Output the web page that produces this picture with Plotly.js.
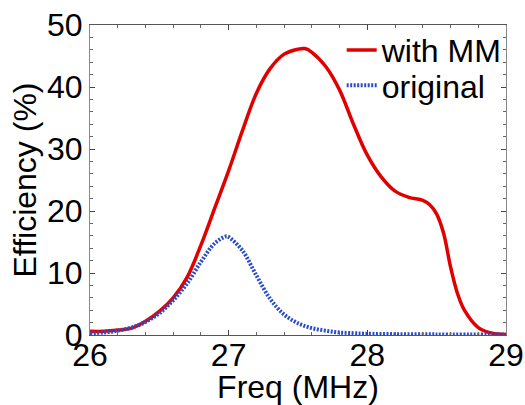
<!DOCTYPE html>
<html>
<head>
<meta charset="utf-8">
<script src="https://cdn.plot.ly/plotly-3.0.1.min.js"></script>
<style>html,body{margin:0;padding:0;background:#fff;}#chart{width:525px;height:405px;}</style>
</head>
<body>
<div id="chart"></div>
<script>
const freqMM = [26.0,26.1,26.2,26.3,26.4,26.5,26.6,26.7,26.8,26.9,27.0,27.1,27.2,27.3,27.4,27.5,27.55,27.6,27.7,27.8,27.9,28.0,28.1,28.2,28.3,28.4,28.45,28.5,28.55,28.6,28.65,28.7,28.8,28.9,29.0];
const effMM  = [0.6,0.6,0.8,1.1,2.2,3.8,6.0,9.3,14.5,20.5,26.5,33.0,39.0,43.0,45.3,46.1,46.2,45.6,43.3,39.5,34.0,29.0,25.5,23.2,22.2,21.7,21.0,19.5,16.4,11.0,6.7,4.0,1.2,0.3,0.1];
const freqOrig = [26.0,26.1,26.2,26.3,26.4,26.5,26.6,26.7,26.8,26.9,26.98,27.0,27.1,27.2,27.3,27.4,27.5,27.6,27.7,27.8,27.9,28.0,28.5,29.0];
const effOrig  = [0.3,0.4,0.7,1.2,2.1,3.5,5.6,8.3,11.8,14.8,15.9,15.8,13.6,9.6,5.8,3.3,1.9,1.1,0.7,0.4,0.3,0.2,0.1,0.1];
const seriesNames = ["with MM", "original"];
const xTicks = [26, 27, 28, 29];
const yTicks = [0, 10, 20, 30, 40, 50];

const font = {family: "Liberation Sans, Arial, sans-serif", color: "#000"};
const F = s => Object.assign({size: s}, font);
const traces = [
  {x: freqMM, y: effMM, name: seriesNames[0], mode: "lines", legend: "legend",
   line: {color: "#e00000", width: 3.5, shape: "spline"}},
  {x: freqOrig, y: effOrig, name: seriesNames[1], mode: "lines", legend: "legend2",
   line: {color: "#2a4cc8", width: 4, dash: "2px,1.5px", shape: "spline"}}
];
const legBase = {xanchor: "left", yanchor: "middle", bgcolor: "rgba(0,0,0,0)", font: F(32), itemwidth: 30};
const layout = {
  width: 525, height: 405,
  margin: {l: 90, r: 19, t: 25, b: 70},
  paper_bgcolor: "#fff", plot_bgcolor: "#fff",
  font: F(32),
  showlegend: true,
  legend: Object.assign({x: 0.605, y: 0.919}, legBase),
  legend2: Object.assign({x: 0.605, y: 0.805}, legBase),
  xaxis: {range: [26, 29], tickvals: xTicks, ticktext: xTicks.map(String),
          ticks: "inside", ticklen: 5, tickcolor: "#444", showgrid: false, zeroline: false,
          showline: true, linecolor: "#555", linewidth: 1, mirror: "allticks",
          minor: {dtick: 0.2, ticks: "inside", ticklen: 3, tickcolor: "#666"},
          tickfont: F(32), automargin: false, ticklabelstandoff: -8,
          title: {text: "Freq (MHz)", font: F(32), standoff: 0}},
  yaxis: {range: [0, 50], tickvals: yTicks, ticktext: yTicks.map(String),
          ticks: "inside", ticklen: 5, tickcolor: "#444", showgrid: false, zeroline: false,
          showline: true, linecolor: "#888", linewidth: 1, mirror: "allticks",
          minor: {dtick: 2, ticks: "inside", ticklen: 3, tickcolor: "#666"},
          tickfont: F(32), automargin: false,
          title: {text: "Efficiency (%)", font: F(32), standoff: 0}}
};
Plotly.newPlot("chart", traces, layout, {staticPlot: true, displayModeBar: false});
</script>
</body>
</html>
